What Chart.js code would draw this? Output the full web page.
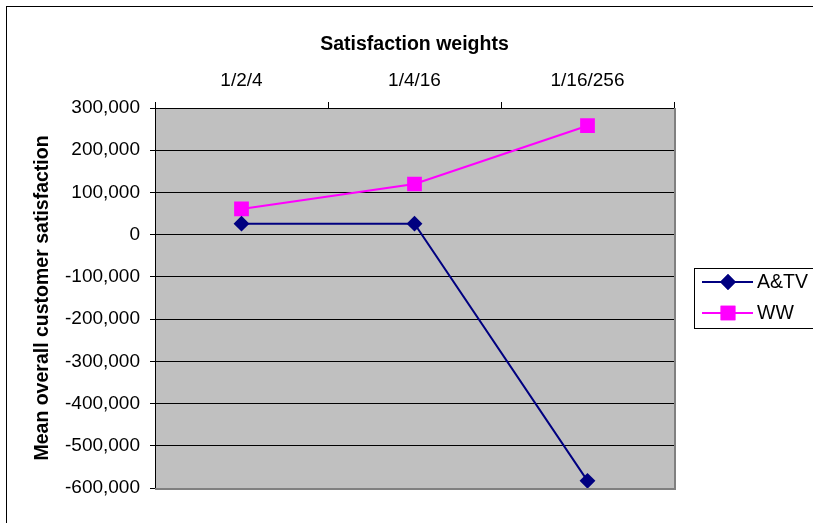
<!DOCTYPE html>
<html>
<head>
<meta charset="utf-8">
<script src="https://cdn.jsdelivr.net/npm/chart.js@4/dist/chart.umd.min.js"></script>
<style>
  html, body { margin: 0; padding: 0; background: #fff; }
  #wrap { position: relative; width: 813px; height: 523px; }
  canvas { display: block; }
</style>
</head>
<body>
<div id="wrap"><canvas id="c" width="813" height="523"></canvas></div>
<script>
const categories = ["1/2/4", "1/4/16", "1/16/256"];
const seriesNames = ["A&TV", "WW"];
const atvValues = [26000, 26000, -583000];
const wwValues = [61000, 120000, 258000];
const yTickMin = -600000;
const yTickMax = 300000;
const yTickStep = 100000;
const xAxisTitle = "Satisfaction weights";
const yAxisTitle = "Mean overall customer satisfaction";

const FONT = "'Liberation Sans', Arial, sans-serif";
const PLOT = { left: 155, top: 108, right: 674, bottom: 488 };

const plotBg = {
  id: 'plotBg',
  beforeDraw(chart) {
    const { ctx, chartArea: a } = chart;
    ctx.save();
    ctx.strokeStyle = '#000';
    ctx.lineWidth = 1;
    ctx.strokeRect(6.5, 6.5, 830, 540);
    ctx.fillStyle = '#C0C0C0';
    ctx.fillRect(a.left, a.top, a.right - a.left, a.bottom - a.top);
    ctx.restore();
  },
  beforeDatasetsDraw(chart) {
    const { ctx, chartArea: a } = chart;
    ctx.save();
    ctx.strokeStyle = '#808080';
    ctx.lineWidth = 2;
    ctx.beginPath();
    ctx.moveTo(a.right + 1, a.top);
    ctx.lineTo(a.right + 1, a.bottom + 1);
    ctx.lineTo(a.left, a.bottom + 1);
    ctx.stroke();
    ctx.restore();
  }
};

const customLegend = {
  id: 'customLegend',
  afterDraw(chart) {
    const { ctx } = chart;
    const box = { x: 694.5, y: 268.5, w: 120, h: 60 };
    ctx.save();
    ctx.fillStyle = '#fff';
    ctx.fillRect(box.x, box.y, box.w, box.h);
    ctx.strokeStyle = '#000';
    ctx.lineWidth = 1;
    ctx.strokeRect(box.x, box.y, box.w, box.h);
    const rows = [282, 313];
    chart.data.datasets.forEach((ds, i) => {
      const y = rows[i];
      ctx.strokeStyle = ds.borderColor;
      ctx.lineWidth = 2;
      ctx.beginPath();
      ctx.moveTo(702, y);
      ctx.lineTo(753, y);
      ctx.stroke();
      Chart.helpers.drawPoint(ctx, {
        pointStyle: ds.pointStyle,
        radius: ds.pointRadius,
        rotation: 0,
        borderWidth: 1
      }, 728, y);
      ctx.fillStyle = ds.pointBackgroundColor;
      ctx.strokeStyle = ds.pointBorderColor;
      ctx.fill();
      ctx.stroke();
      ctx.fillStyle = '#000';
      ctx.font = '19.5px ' + FONT;
      ctx.textBaseline = 'middle';
      ctx.textAlign = 'left';
      ctx.fillText(ds.label, 757, y + 1);
    });
    ctx.restore();
  }
};

new Chart(document.getElementById('c'), {
  type: 'line',
  data: {
    labels: categories,
    datasets: [
      {
        label: seriesNames[0],
        data: atvValues,
        borderColor: '#000080',
        backgroundColor: '#000080',
        pointBackgroundColor: '#000080',
        pointBorderColor: '#000080',
        pointStyle: 'rectRot',
        pointRadius: 6.5,
        borderWidth: 2,
        tension: 0
      },
      {
        label: seriesNames[1],
        data: wwValues,
        borderColor: '#FF00FF',
        backgroundColor: '#FF00FF',
        pointBackgroundColor: '#FF00FF',
        pointBorderColor: '#FF00FF',
        pointStyle: 'rect',
        pointRadius: 9,
        borderWidth: 2,
        tension: 0
      }
    ]
  },
  options: {
    responsive: false,
    animation: false,
    devicePixelRatio: 1,
    layout: { padding: { left: 0, top: 0, right: 813 - PLOT.right, bottom: 523 - PLOT.bottom } },
    plugins: {
      legend: { display: false },
      tooltip: { enabled: false }
    },
    scales: {
      x: {
        position: 'top',
        offset: true,
        afterFit(s) { s.height = PLOT.top; },
        grid: {
          offset: true,
          drawOnChartArea: false,
          drawTicks: true,
          tickLength: 6,
          color: '#000',
          lineWidth: 1
        },
        border: { display: true, color: '#000', width: 1 },
        ticks: {
          color: '#000',
          font: { family: FONT, size: 19 },
          padding: 10,
          maxRotation: 0,
          autoSkip: false
        },
        title: {
          display: true,
          text: xAxisTitle,
          color: '#000',
          font: { family: FONT, size: 19.5, weight: 'bold' },
          padding: { top: 33, bottom: 0 }
        }
      },
      y: {
        min: yTickMin,
        max: yTickMax,
        afterFit(s) { s.width = PLOT.left; },
        grid: {
          color: '#000',
          lineWidth: 1,
          drawTicks: true,
          tickLength: 5
        },
        border: { display: true, color: '#000', width: 1 },
        ticks: {
          stepSize: yTickStep,
          color: '#000',
          font: { family: FONT, size: 19 },
          padding: 10,
          callback: (v) => v.toLocaleString('en-US')
        },
        title: {
          display: true,
          text: yAxisTitle,
          color: '#000',
          font: { family: FONT, size: 19.5, weight: 'bold' },
          padding: { top: 31, bottom: 0 }
        }
      }
    }
  },
  plugins: [plotBg, customLegend]
});
</script>
</body>
</html>
